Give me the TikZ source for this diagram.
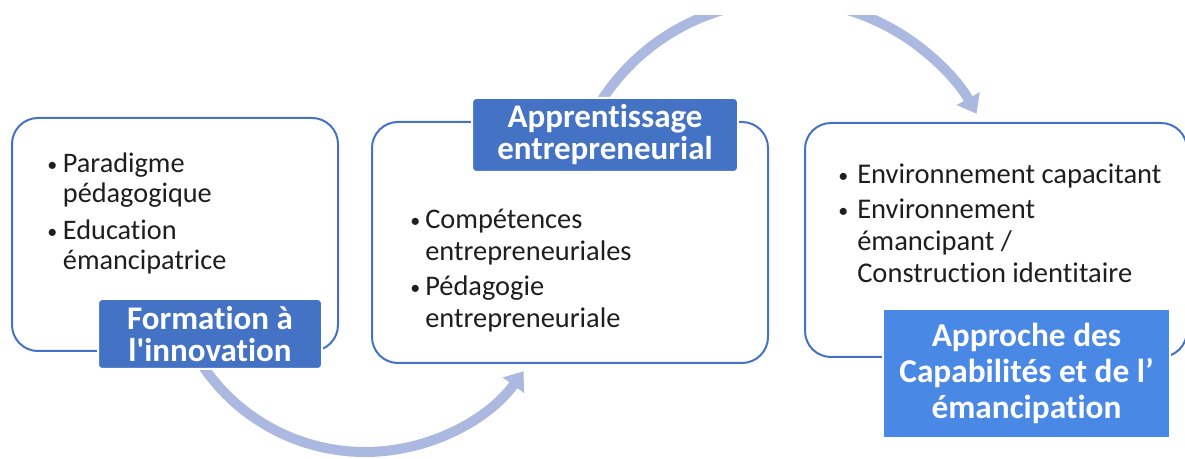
\documentclass[tikz,border=0pt]{standalone}
\usepackage{fontspec}
\setmainfont{Carlito}[Ligatures={TeXOff,NoCommon}]
\usetikzlibrary{arrows.meta}
\definecolor{edgeblue}{HTML}{4472C4}
\definecolor{darkfill}{HTML}{4472C4}
\definecolor{brightfill}{HTML}{4A88E6}
\definecolor{cyclearc}{HTML}{ABB9E0}
\definecolor{bodytext}{HTML}{1E1E1E}
\newcommand\dotmark{\raisebox{1pt}{\fontsize{15}{15}\selectfont\textbullet}}

\begin{document}
\begin{tikzpicture}[x=0.75pt,y=-0.75pt,
  panel/.style={draw=edgeblue, line width=1.5pt, fill=white, rounded corners=19.5pt,
    inner sep=0pt, outer sep=0pt},
  headtag/.style={fill=darkfill, draw=white, line width=1.5pt, rounded corners=3pt,
    text=white, font=\fontsize{24.75}{24}\selectfont\bfseries, align=center, inner sep=0pt},
  looparrow/.style={draw=cyclearc, line width=7.5pt, -{Triangle[width=19pt,length=13pt]}},
  bullets/.style={anchor=base west, inner sep=0pt, text=bodytext}]

\useasboundingbox (0,0) rectangle (1185,459);

% cycle arrows behind the panels
\begin{scope}
  \clip (0,16) rectangle (1185,459);
  \coordinate (lowstart) at (202.5,365.6);
  \coordinate (highstart) at (599.3,103.9);
  \draw[looparrow] (lowstart) arc[start angle=146, end angle=36, radius=196];
  \draw[looparrow] (highstart) arc[start angle=212, end angle=331, radius=219];
\end{scope}

% panels
\node[panel, minimum width=244.5pt, minimum height=174.75pt] (formbox) at (175,234.5) {};
\node[panel, minimum width=297pt, minimum height=180.75pt] (apprbox) at (570,242.5) {};
\node[panel, minimum width=286.5pt, minimum height=175.5pt] (capbox) at (996,240) {};

% bullet lists
\node[bullets] (formlist) at (47,173) {\fontsize{21.2}{22.5}\selectfont
  \begin{tabular}[t]{@{}p{11.75pt}@{}l@{}}
  \dotmark & Paradigme\\
           & pédagogique\\[5pt]
  \dotmark & Education\\
           & émancipatrice
  \end{tabular}};
\node[bullets] (apprlist) at (410,229) {\fontsize{21.3}{24}\selectfont
  \begin{tabular}[t]{@{}p{11.25pt}@{}l@{}}
  \dotmark & Compétences\\
           & entrepreneuriales\\[2.25pt]
  \dotmark & Pédagogie\\
           & entrepreneuriale
  \end{tabular}};
\node[bullets] (caplist) at (838,184) {\fontsize{21.4}{24}\selectfont
  \begin{tabular}[t]{@{}p{14.25pt}@{}l@{}}
  \dotmark & Environnement capacitant\\[2.25pt]
  \dotmark & Environnement\\
           & émancipant /\\
           & Construction identitaire
  \end{tabular}};

% titles
\node[headtag, minimum width=168pt, minimum height=52.5pt] (formtag) at (210,334)
  {Formation à\\l'innovation};
\node[headtag, minimum width=199.5pt, minimum height=55.5pt] (apprtag) at (605,135)
  {Apprentissage\\entrepreneurial};
\node[headtag, fill=brightfill, rounded corners=0pt, minimum width=215.25pt,
  minimum height=96.75pt, font=\fontsize{25}{27}\selectfont\bfseries] (captag) at (1026.5,373.5)
  {\raisebox{-3pt}{Approche des}\\\raisebox{-3pt}{Capabilités et de l’}\\\raisebox{-3pt}{émancipation}};

\end{tikzpicture}
\end{document}
